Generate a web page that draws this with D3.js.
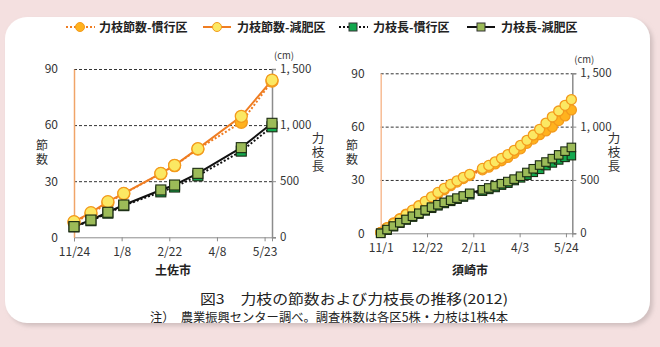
<!DOCTYPE html>
<html><head><meta charset="utf-8">
<script src="https://cdn.jsdelivr.net/npm/d3@7"></script>
<style>
html,body{margin:0;padding:0;background:#f4e0e0;}
svg{display:block;font-family:"Noto Sans CJK JP","Noto Sans",sans-serif;}
</style></head>
<body>
<svg id="c" width="660" height="347"></svg>
<script>
// ---------- data ----------
const seriesNames = ["力枝節数-慣行区","力枝節数-減肥区","力枝長-慣行区","力枝長-減肥区"];

const tosaDates = ["2012-11-24","2012-12-10","2012-12-26","2013-01-10","2013-02-14","2013-02-27","2013-03-21","2013-05-01","2013-05-30"];
const tosaNodesKanko = [8.0, 12.5, 18.5, 23.3, 34.0, 38.3, 47.2, 61.5, 83.5];
const tosaNodesGenpi = [8.4, 13.2, 19.1, 23.5, 34.2, 38.5, 47.4, 64.7, 84.1];
const tosaLenKanko  = [93, 148, 215, 282, 405, 448, 548, 768, 985];
const tosaLenGenpi  = [95, 154, 223, 288, 422, 466, 570, 799, 1016];
const tosaTicks = ["2012-11-24","2013-01-08","2013-02-22","2013-04-08","2013-05-23"];
const tosaRange = ["2012-11-24","2013-05-30"];

const suzakiDates = ["2012-11-01","2012-11-08","2012-11-15","2012-11-22","2012-11-29","2012-12-06","2012-12-13","2012-12-20","2012-12-27","2013-01-03","2013-01-10","2013-01-17","2013-01-24","2013-01-31","2013-02-07",
  "2013-02-21","2013-02-28","2013-03-07","2013-03-14","2013-03-21","2013-03-28","2013-04-04","2013-04-11","2013-04-18","2013-04-25","2013-05-02","2013-05-09","2013-05-16","2013-05-23","2013-05-30"];
const suzakiNodesKanko = [0.5, 3.2, 5.8, 8.2, 10.8, 12.8, 15.0, 17.3, 19.8, 22.2, 24.5, 26.8, 28.8, 30.8, 32.5,
  35.7, 37.2, 39.0, 40.8, 42.7, 45.0, 47.5, 50.6, 53.0, 55.5, 57.6, 59.8, 63.4, 66.0, 69.4];
const suzakiNodesGenpi = [0.5, 3.0, 5.5, 8.0, 10.5, 13.0, 15.5, 18.0, 20.5, 23.0, 25.3, 27.5, 29.5, 31.5, 33.2,
  36.5, 38.2, 40.2, 42.2, 44.3, 46.7, 49.5, 52.3, 55.3, 58.5, 62.0, 65.5, 68.8, 72.0, 75.2];
const suzakiLenKanko = [0, 30, 62, 95, 125, 152, 180, 210, 235, 258, 280, 300, 320, 340, 362,
  395, 412, 430, 452, 470, 495, 520, 545, 572, 600, 635, 660, 688, 712, 728];
const suzakiLenGenpi = [0, 35, 68, 100, 130, 160, 188, 218, 245, 268, 290, 310, 330, 350, 375,
  408, 425, 445, 465, 485, 508, 535, 570, 605, 640, 668, 700, 735, 770, 805];
const suzakiTicks = ["2012-11-01","2012-12-22","2013-02-11","2013-04-03","2013-05-24"];
const suzakiRange = ["2012-11-01","2013-05-31"];

const nodeTicks = [0, 30, 60, 90];
const lenTicks = [0, 500, 1000, 1500];
const lenTickLabels = ["0", "500", "1, 000", "1, 500"];
const nodeAxisTitle = "節数";
const lenAxisTitle = "力枝長";
const captionTitle = "図3　力枝の節数および力枝長の推移(2012)";
const captionNote = "注）　農業振興センター調べ。調査株数は各区5株・力枝は1株4本";

// ---------- drawing ----------
const parse = d3.timeParse("%Y-%m-%d");
const fmt = d3.timeFormat("%-m/%-d");
const svg = d3.select("#c");

// frame
const defs = svg.append("defs");
const f = defs.append("filter").attr("id","sh").attr("x","-5%").attr("y","-5%").attr("width","115%").attr("height","115%");
f.append("feDropShadow").attr("dx",3).attr("dy",3).attr("stdDeviation",2).attr("flood-color","#b9a9a9").attr("flood-opacity",0.6);
svg.append("rect").attr("x",0).attr("y",0).attr("width",660).attr("height",347).attr("fill","#f4e0e0");
svg.append("rect").attr("x",5).attr("y",17).attr("width",645).attr("height",306).attr("rx",22).attr("fill","#ffffff").attr("filter","url(#sh)");

const C = {
  kankoNodeFill:"#ffb21e", nodeStroke:"#f39a1c", genpiNodeFill:"#fbe863",
  orangeLine:"#ef7d22", kankoLenFill:"#13a84e", genpiLenFill:"#9cbb58", black:"#111"
};

// legend
const legend = [
  {cx:80, x0:66, x1:95, dash:"2,2", shape:"circle", fill:C.kankoNodeFill, line:C.orangeLine, tx:99},
  {cx:217, x0:203, x1:231, dash:null, shape:"circle", fill:C.genpiNodeFill, line:C.orangeLine, tx:237},
  {cx:353, x0:339, x1:368, dash:"2,2", shape:"square", fill:C.kankoLenFill, line:C.black, tx:373},
  {cx:481, x0:467, x1:495, dash:null, shape:"square", fill:C.genpiLenFill, line:C.black, tx:501}
];
const lg = svg.append("g");
legend.forEach((d,i)=>{
  const ly = 27;
  lg.append("line").attr("x1",d.x0).attr("x2",d.x1).attr("y1",ly).attr("y2",ly)
    .attr("stroke",d.line).attr("stroke-width",2).attr("stroke-dasharray",d.dash);
  if(d.shape==="circle") lg.append("circle").attr("cx",d.cx).attr("cy",ly).attr("r",4.5).attr("fill",d.fill).attr("stroke",C.nodeStroke).attr("stroke-width",1);
  else lg.append("rect").attr("x",d.cx-4).attr("y",ly-4).attr("width",8).attr("height",8).attr("fill",d.fill).attr("stroke","#333").attr("stroke-width",1);
  lg.append("text").attr("x",d.tx).attr("y",ly+4.5).attr("font-size",12).attr("font-weight","bold").attr("fill","#222").text(seriesNames[i]);
});

function verticalText(g, str, x, yTop, spacing, size){
  g.append("text").attr("x",x).attr("y",yTop)
    .attr("writing-mode","vertical-rl").attr("text-orientation","upright")
    .attr("letter-spacing",spacing).attr("font-size",size).attr("fill","#333").text(str);
}

function drawChart(o){
  const g = svg.append("g");
  const x = d3.scaleTime().domain(o.range.map(parse)).range([o.left,o.right]);
  const yN = d3.scaleLinear().domain([0,90]).range([o.bottom,o.top]);
  const yL = d3.scaleLinear().domain([0,1500]).range([o.bottom,o.top]);
  const dates = o.dates.map(parse);

  // gridlines
  g.selectAll(".grid").data(nodeTicks.filter(v=>v>0)).join("line")
    .attr("x1",o.left).attr("x2",o.right).attr("y1",d=>yN(d)+0.5).attr("y2",d=>yN(d)+0.5)
    .attr("stroke","#333").attr("stroke-width",1).attr("stroke-dasharray","3,2");

  // bottom axis
  const xa = g.append("g").attr("transform",`translate(0,${o.bottom})`)
    .call(d3.axisBottom(x).tickValues(o.ticks.map(parse)).tickFormat(fmt).tickSize(4).tickPadding(6));
  xa.select(".domain").attr("stroke","#8c8c8c");
  xa.selectAll(".tick line").attr("stroke","#8c8c8c");
  xa.selectAll("text").attr("font-size",12).attr("fill","#333").attr("font-family","Noto Sans CJK JP");

  // left axis (nodes)
  const la = g.append("g").attr("transform",`translate(${o.left},0)`)
    .call(d3.axisLeft(yN).tickValues(nodeTicks).tickSize(0).tickPadding(16));
  la.select(".domain").attr("stroke",o.leftColor).attr("stroke-width",1.5);
  la.selectAll("text").attr("font-size",12).attr("fill","#333").attr("font-family","Noto Sans CJK JP");

  // right axis (length)
  const ra = g.append("g").attr("transform",`translate(${o.right},0)`)
    .call(d3.axisRight(yL).tickValues(lenTicks).tickFormat((d,i)=>lenTickLabels[i]).tickSize(4).tickPadding(4));
  ra.select(".domain").attr("stroke","#8c8c8c").attr("stroke-width",1.5);
  ra.selectAll(".tick line").attr("stroke","#8c8c8c");
  ra.selectAll("text").attr("font-size",11.5).attr("fill","#333").attr("font-family","Noto Sans CJK JP");

  g.append("text").attr("x",o.right+12).attr("y",o.top-10).attr("text-anchor","middle").attr("font-size",9.5).attr("fill","#333").text("(cm)");
  verticalText(g, nodeAxisTitle, o.nodeLabelX, o.nodeLabelTop, 2, 12);
  verticalText(g, lenAxisTitle, o.lenLabelX, o.lenLabelTop, 1.3, 12.5);
  g.append("text").attr("x",o.cityX).attr("y",o.cityY).attr("text-anchor","middle").attr("font-size",12).attr("font-weight","bold").attr("fill","#222").text(o.city);

  const lineN = d3.line().x((d,i)=>x(dates[i])).y(d=>yN(d));
  const lineL = d3.line().x((d,i)=>x(dates[i])).y(d=>yL(d));

  const series = [
    {vals:o.nodesKanko, line:lineN, y:yN, col:C.orangeLine, dash:"2,2", shape:"circle", fill:C.kankoNodeFill},
    {vals:o.nodesGenpi, line:lineN, y:yN, col:C.orangeLine, dash:null, shape:"circle", fill:C.genpiNodeFill},
    {vals:o.lenKanko, line:lineL, y:yL, col:C.black, dash:"2,2", shape:"square", fill:C.kankoLenFill},
    {vals:o.lenGenpi, line:lineL, y:yL, col:C.black, dash:null, shape:"square", fill:C.genpiLenFill}
  ];
  series.forEach(s=>{
    g.append("path").datum(s.vals).attr("d",s.line).attr("fill","none")
      .attr("stroke",s.col).attr("stroke-width",2).attr("stroke-dasharray",s.dash);
  });
  series.forEach(s=>{
    if(s.shape==="circle"){
      g.selectAll(null).data(s.vals).join("circle")
        .attr("cx",(d,i)=>x(dates[i])).attr("cy",d=>s.y(d)).attr("r",o.r)
        .attr("fill",s.fill).attr("stroke",C.nodeStroke).attr("stroke-width",1.3);
    } else {
      g.selectAll(null).data(s.vals).join("rect")
        .attr("x",(d,i)=>x(dates[i])-o.sq/2).attr("y",d=>s.y(d)-o.sq/2).attr("width",o.sq).attr("height",o.sq)
        .attr("fill",s.fill).attr("stroke","#1b2b12").attr("stroke-width",1.1);
    }
  });
}

drawChart({left:74, right:272, top:69, bottom:237.3, range:tosaRange, ticks:tosaTicks, dates:tosaDates,
  nodesKanko:tosaNodesKanko, nodesGenpi:tosaNodesGenpi, lenKanko:tosaLenKanko, lenGenpi:tosaLenGenpi,
  leftColor:"#f0a468", r:6, sq:10,
  nodeLabelX:42, nodeLabelTop:139, lenLabelX:318, lenLabelTop:132, city:"土佐市", cityX:173, cityY:275});

drawChart({left:380.7, right:572.3, top:73.3, bottom:233.3, range:suzakiRange, ticks:suzakiTicks, dates:suzakiDates,
  nodesKanko:suzakiNodesKanko, nodesGenpi:suzakiNodesGenpi, lenKanko:suzakiLenKanko, lenGenpi:suzakiLenGenpi,
  leftColor:"#f7bc94", r:5, sq:8.5,
  nodeLabelX:352, nodeLabelTop:139, lenLabelX:614, lenLabelTop:132, city:"須崎市", cityX:470, cityY:275});

// captions
svg.append("text").attr("x",200).attr("y",304).attr("font-size",13.5).attr("fill","#222")
  .attr("textLength",308).attr("lengthAdjust","spacingAndGlyphs").text(captionTitle);
svg.append("text").attr("x",150).attr("y",322).attr("font-size",12.5).attr("fill","#222")
  .attr("textLength",358).attr("lengthAdjust","spacingAndGlyphs").text(captionNote);
</script>
</body></html>
